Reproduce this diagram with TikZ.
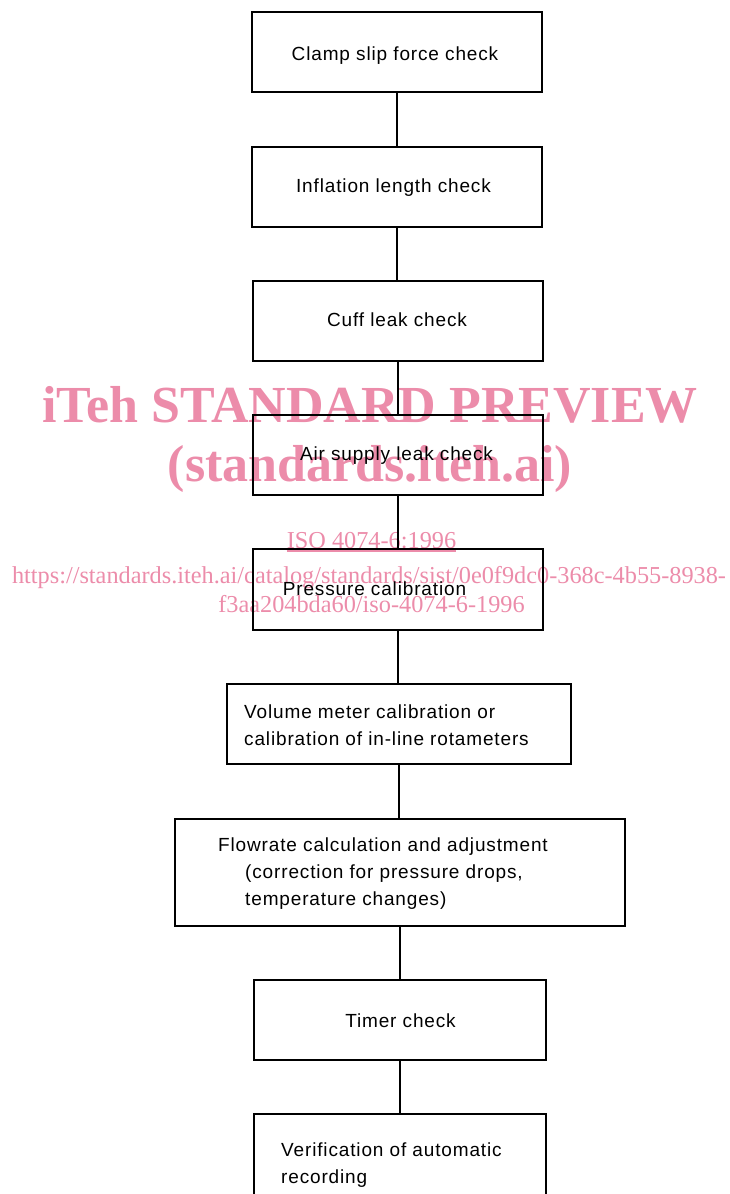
\documentclass[tikz,border=0pt]{standalone}
\usepackage{fontspec}
\newfontfamily\boxfont{Liberation Sans}[LetterSpace=4.5]
\newfontfamily\wmfont{Liberation Serif}
\definecolor{wm}{RGB}{236,140,170}
\begin{document}
\begin{tikzpicture}[x=1pt,y=-1pt,
  box/.style={draw, line width=1.8pt, inner sep=0pt},
  txt/.style={inner sep=0pt, font=\boxfont\fontsize{19}{27}\selectfont, align=left},
  link/.style={line width=1.8pt},
  wmbig/.style={inner sep=0pt, text=wm, font=\wmfont\bfseries\fontsize{52}{52}\selectfont, anchor=base},
  wmsmall/.style={inner sep=0pt, text=wm, font=\wmfont\fontsize{24.3}{25}\selectfont, anchor=base}]
\useasboundingbox (0,0) rectangle (730,1194);
% watermark (behind)
\node[wmbig] (w1) at (370,422) {iTeh STANDARD PREVIEW};
\node[wmbig] (w2) at (370,481) {(standards.iteh.ai)};
\node[wmsmall] (w3) at (371.5,548) {ISO 4074-6:1996};
\draw[wm, line width=1.2pt] ([yshift=-3pt]w3.base west) -- ([yshift=-3pt]w3.base east);
\node[wmsmall] (w4) at (369,583) {https://standards.iteh.ai/catalog/standards/sist/0e0f9dc0-368c-4b55-8938-};
\node[wmsmall] (w5) at (371.5,612) {f3aa204bda60/iso-4074-6-1996};
% boxes
\node[box, minimum width=290pt, minimum height=80pt] (b1) at (397,52) {};
\node[box, minimum width=290pt, minimum height=80pt] (b2) at (397,187) {};
\node[box, minimum width=290pt, minimum height=80pt] (b3) at (398,321) {};
\node[box, minimum width=290pt, minimum height=80pt] (b4) at (398,455) {};
\node[box, minimum width=290pt, minimum height=81pt] (b5) at (398,589.5) {};
\node[box, minimum width=344pt, minimum height=80pt] (b6) at (399,724) {};
\node[box, minimum width=450pt, minimum height=107pt] (b7) at (400,872.5) {};
\node[box, minimum width=292pt, minimum height=80pt] (b8) at (400,1020) {};
\node[box, minimum width=292pt, minimum height=88pt] (b9) at (400,1158) {};
% texts
\node[txt, anchor=base] (t1) at (395,60) {Clamp slip force check};
\node[txt, anchor=base] (t2) at (393.5,192) {Inflation length check};
\node[txt, anchor=base] (t3) at (397,326) {Cuff leak check};
\node[txt, anchor=base] (t4) at (396.5,460) {Air supply leak check};
\node[txt, anchor=base] (t5) at (374.5,595) {Pressure calibration};
\node[txt, anchor=base west] (t6) at (244,745) {Volume meter calibration or\\calibration of in-line rotameters};
\node[txt, anchor=base west] (t7) at (218,905) {Flowrate calculation and adjustment\\\hspace*{27pt}(correction for pressure drops,\\\hspace*{27pt}temperature changes)};
\node[txt, anchor=base] (t8) at (400.5,1027) {Timer check};
\node[txt, anchor=base west] (t9) at (281,1183) {Verification of automatic\\recording};
% connectors
\draw[link] (b1.south) -- (b1.south |- b2.north);
\draw[link] (b2.south) -- (b2.south |- b3.north);
\draw[link] (b3.south) -- (b3.south |- b4.north);
\draw[link] (b4.south) -- (b4.south |- b5.north);
\draw[link] (b5.south) -- (b5.south |- b6.north);
\draw[link] (b6.south) -- (b6.south |- b7.north);
\draw[link] (b7.south) -- (b7.south |- b8.north);
\draw[link] (b8.south) -- (b8.south |- b9.north);
\end{tikzpicture}
\end{document}
